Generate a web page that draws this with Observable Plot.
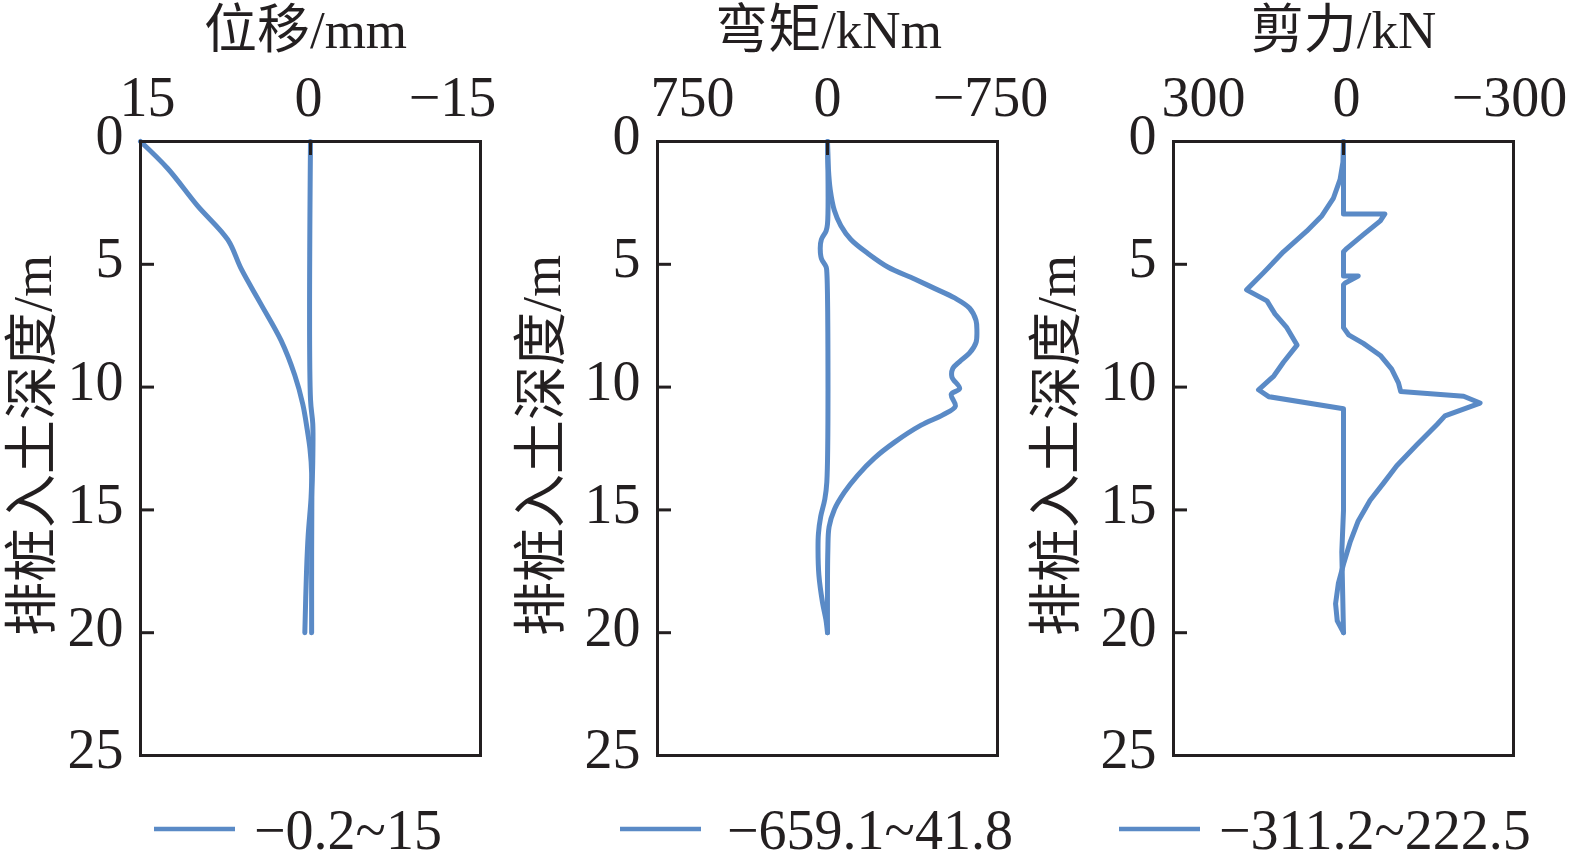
<!DOCTYPE html>
<html>
<head>
<meta charset="utf-8">
<script src="https://cdn.jsdelivr.net/npm/d3@7"></script>
<script src="https://cdn.jsdelivr.net/npm/@observablehq/plot@0.6"></script>
<style>
  html, body { margin: 0; padding: 0; background: #fff; }
  #root { position: relative; width: 1576px; height: 861px; overflow: hidden; background: #fff; }
  .panel { position: absolute; top: 0; }
</style>
</head>
<body>
<div id="root"></div>
<script>
// ---------------- data ----------------
const titles = ["位移/mm", "弯矩/kNm", "剪力/kN"];
const yAxisLabel = "排桩入土深度/m";
const depthTicks = [0, 5, 10, 15, 20, 25];
const dispTicks = [15, 0, -15];
const momentTicks = [750, 0, -750];
const shearTicks = [300, 0, -300];
const legendLabels = ["−0.2~15", "−659.1~41.8", "−311.2~222.5"];

// displacement envelopes (mm)
const dispDepthA = [0, 1.1, 2.6, 4.0, 5.2, 6.6, 8.1, 9.5, 10.7, 11.7, 12.5, 13.5, 14.5, 16, 17.5, 20];
const dispA      = [15, 12.6, 10.0, 7.3, 6.1, 4.4, 2.6, 1.4, 0.68, 0.3, 0.05, -0.1, -0.05, 0.2, 0.35, 0.5];
const dispDepthB = [0, 10.5, 11.5, 13, 14.5, 17, 20];
const dispB      = [0, 0, -0.2, -0.2, -0.12, -0.1, -0.1];

// bending moment envelopes (kNm)
const momDepthA = [0, 1.12, 1.96, 2.8, 3.43, 3.99, 4.55, 5.11, 5.6, 5.98, 6.37, 6.79, 7.28, 7.7, 8.19, 8.61, 8.96, 9.24, 9.59, 10.06, 10.29, 10.78, 11.13, 11.55, 12.25, 12.89, 13.59, 14.29, 14.99, 15.69, 16.67, 20];
const momA      = [0, -4, -12, -30, -59, -103, -177, -266, -384, -472, -561, -627, -655, -659.1, -655, -627, -583, -553, -549, -583, -546, -564, -509, -413, -295, -207, -133, -74, -30, -7, -1.5, 0];
const momDepthB = [0, 3.36, 3.64, 3.99, 4.34, 4.76, 5.11, 5.32, 13.87, 14.57, 15.27, 15.97, 16.6, 17.65, 18.77, 19.47, 20];
const momB      = [0, 0, 6, 27, 32, 27, 6, 3, 3, 12, 30, 40, 41.8, 38, 22, 7, 0];

// shear envelopes (kN)
const shearDepthA = [0, 0.84, 1.54, 2.32, 3.02, 3.65, 4.49, 5.34, 6.04, 6.49, 7.02, 7.58, 8.29, 8.99, 9.55, 10.11, 10.39, 10.88, 15.03, 16.71, 20];
const shearA      = [0, 1, 6, 18, 38, 65, 106, 141, 171, 135, 121, 100, 82, 106, 123, 150, 132, 0, 0, 3, 0];
const shearDepthB = [0, 2.95, 2.95, 3.23, 3.79, 4.35, 4.49, 5.48, 5.48, 5.76, 5.83, 7.58, 7.87, 8.22, 8.71, 9.27, 9.83, 10.18, 10.37, 10.65, 11.17, 11.52, 12.36, 13.2, 13.9, 14.61, 15.45, 16.29, 17.13, 17.98, 18.82, 19.52, 20];
const shearB      = [0, 0, -73, -65, -35, -6, 0, 0, -26, -3, 0, 0, -9, -35, -65, -85, -97, -101, -212, -241, -179, -165, -129, -94, -71, -47, -26, -12, -1, 9, 14, 11, 0];

// ---------------- styles ----------------
const INK = "#231f20";
const BLUE = "#5a8ac6";
const FONT = "'Liberation Serif', 'Times New Roman', 'Noto Sans CJK SC', serif";
const H = 775, MT = 141, MB = 20, ML = 140, FW = 340;
const FH = H - MT - MB;

const rows = (depth, vals) => depth.map((d, i) => ({depth: d, v: vals[i]}));

const panels = [
  {left: 0, width: 517, title: titles[0], titleDx: -5, ylabDx: -107, ticks: dispTicks, tickDx: [7, -2, -28], curve: "catmull-rom",
   series: [rows(dispDepthA, dispA), rows(dispDepthB, dispB)]},
  {left: 517, width: 516, title: titles[1], titleDx: 1, ylabDx: -115, ticks: momentTicks, tickDx: [35, 0, -7], curve: "catmull-rom",
   series: [rows(momDepthA, momA), rows(momDepthB, momB)]},
  {left: 1033, width: 543, title: titles[2], titleDx: 0, ylabDx: -116, ticks: shearTicks, tickDx: [30, 3, -4], curve: "linear",
   series: [rows(shearDepthA, shearA), rows(shearDepthB, shearB)]}
];

const root = document.getElementById("root");
const fmt = d3.format("d");

panels.forEach((p) => {
  const marks = [];
  p.series.forEach(s => marks.push(Plot.line(s, {x: "v", y: "depth", curve: p.curve, stroke: BLUE, strokeWidth: 5, strokeLinejoin: "round"})));
  marks.push(Plot.frame({stroke: INK, strokeWidth: 3}));
  marks.push(Plot.tickY(depthTicks.slice(1, -1), {y: d => d, stroke: INK, strokeWidth: 3, insetRight: FW - 14}));
  marks.push(Plot.tickX([0], {x: d => d, stroke: INK, strokeWidth: 3, insetBottom: FH - 14}));
  marks.push(Plot.axisY(depthTicks, {anchor: "left", tickSize: 0, tickPadding: 17, dy: -5, fontSize: 56, fill: INK, tickFormat: fmt, label: null}));
  p.ticks.forEach((t, i) => marks.push(Plot.axisX([t], {anchor: "top", tickSize: 0, tickPadding: 26, dx: p.tickDx[i], fontSize: 56, fill: INK, tickFormat: fmt, label: null})));
  marks.push(Plot.text([p.title], {text: d => d, frameAnchor: "top", dy: -110, dx: p.titleDx, lineAnchor: "middle", fontSize: 53, fill: INK}));
  marks.push(Plot.text([yAxisLabel], {text: d => d, frameAnchor: "left", dx: p.ylabDx, dy: -3, rotate: -90, textAnchor: "middle", lineAnchor: "middle", fontSize: 54, fill: INK}));

  const chart = Plot.plot({
    width: p.width, height: H,
    marginLeft: ML, marginRight: p.width - ML - FW, marginTop: MT, marginBottom: MB,
    style: {background: "transparent", overflow: "visible", fontFamily: FONT, color: INK},
    x: {domain: [p.ticks[0], p.ticks[2]]},
    y: {domain: [0, 25], reverse: true},
    marks
  });
  chart.classList.add("panel");
  chart.style.left = p.left + "px";
  chart.style.position = "absolute";
  chart.style.top = "0px";
  root.appendChild(chart);
});

// ---------------- legend ----------------
const legendPos = [{x1: 154, x2: 235, tx: 254}, {x1: 620, x2: 701, tx: 727}, {x1: 1119, x2: 1200, tx: 1219}];
const NS = "http://www.w3.org/2000/svg";
const lg = document.createElementNS(NS, "svg");
lg.setAttribute("width", 1576);
lg.setAttribute("height", 81);
lg.style.position = "absolute";
lg.style.left = "0px";
lg.style.top = "780px";
legendLabels.forEach((lab, i) => {
  const pos = legendPos[i];
  const ln = document.createElementNS(NS, "line");
  ln.setAttribute("x1", pos.x1); ln.setAttribute("x2", pos.x2);
  ln.setAttribute("y1", 49); ln.setAttribute("y2", 49);
  ln.setAttribute("stroke", BLUE); ln.setAttribute("stroke-width", 4.5);
  lg.appendChild(ln);
  const tx = document.createElementNS(NS, "text");
  tx.setAttribute("x", pos.tx); tx.setAttribute("y", 69);
  tx.setAttribute("font-family", FONT);
  tx.setAttribute("font-size", 56);
  tx.setAttribute("fill", INK);
  tx.textContent = lab;
  lg.appendChild(tx);
});
root.appendChild(lg);
</script>
</body>
</html>
